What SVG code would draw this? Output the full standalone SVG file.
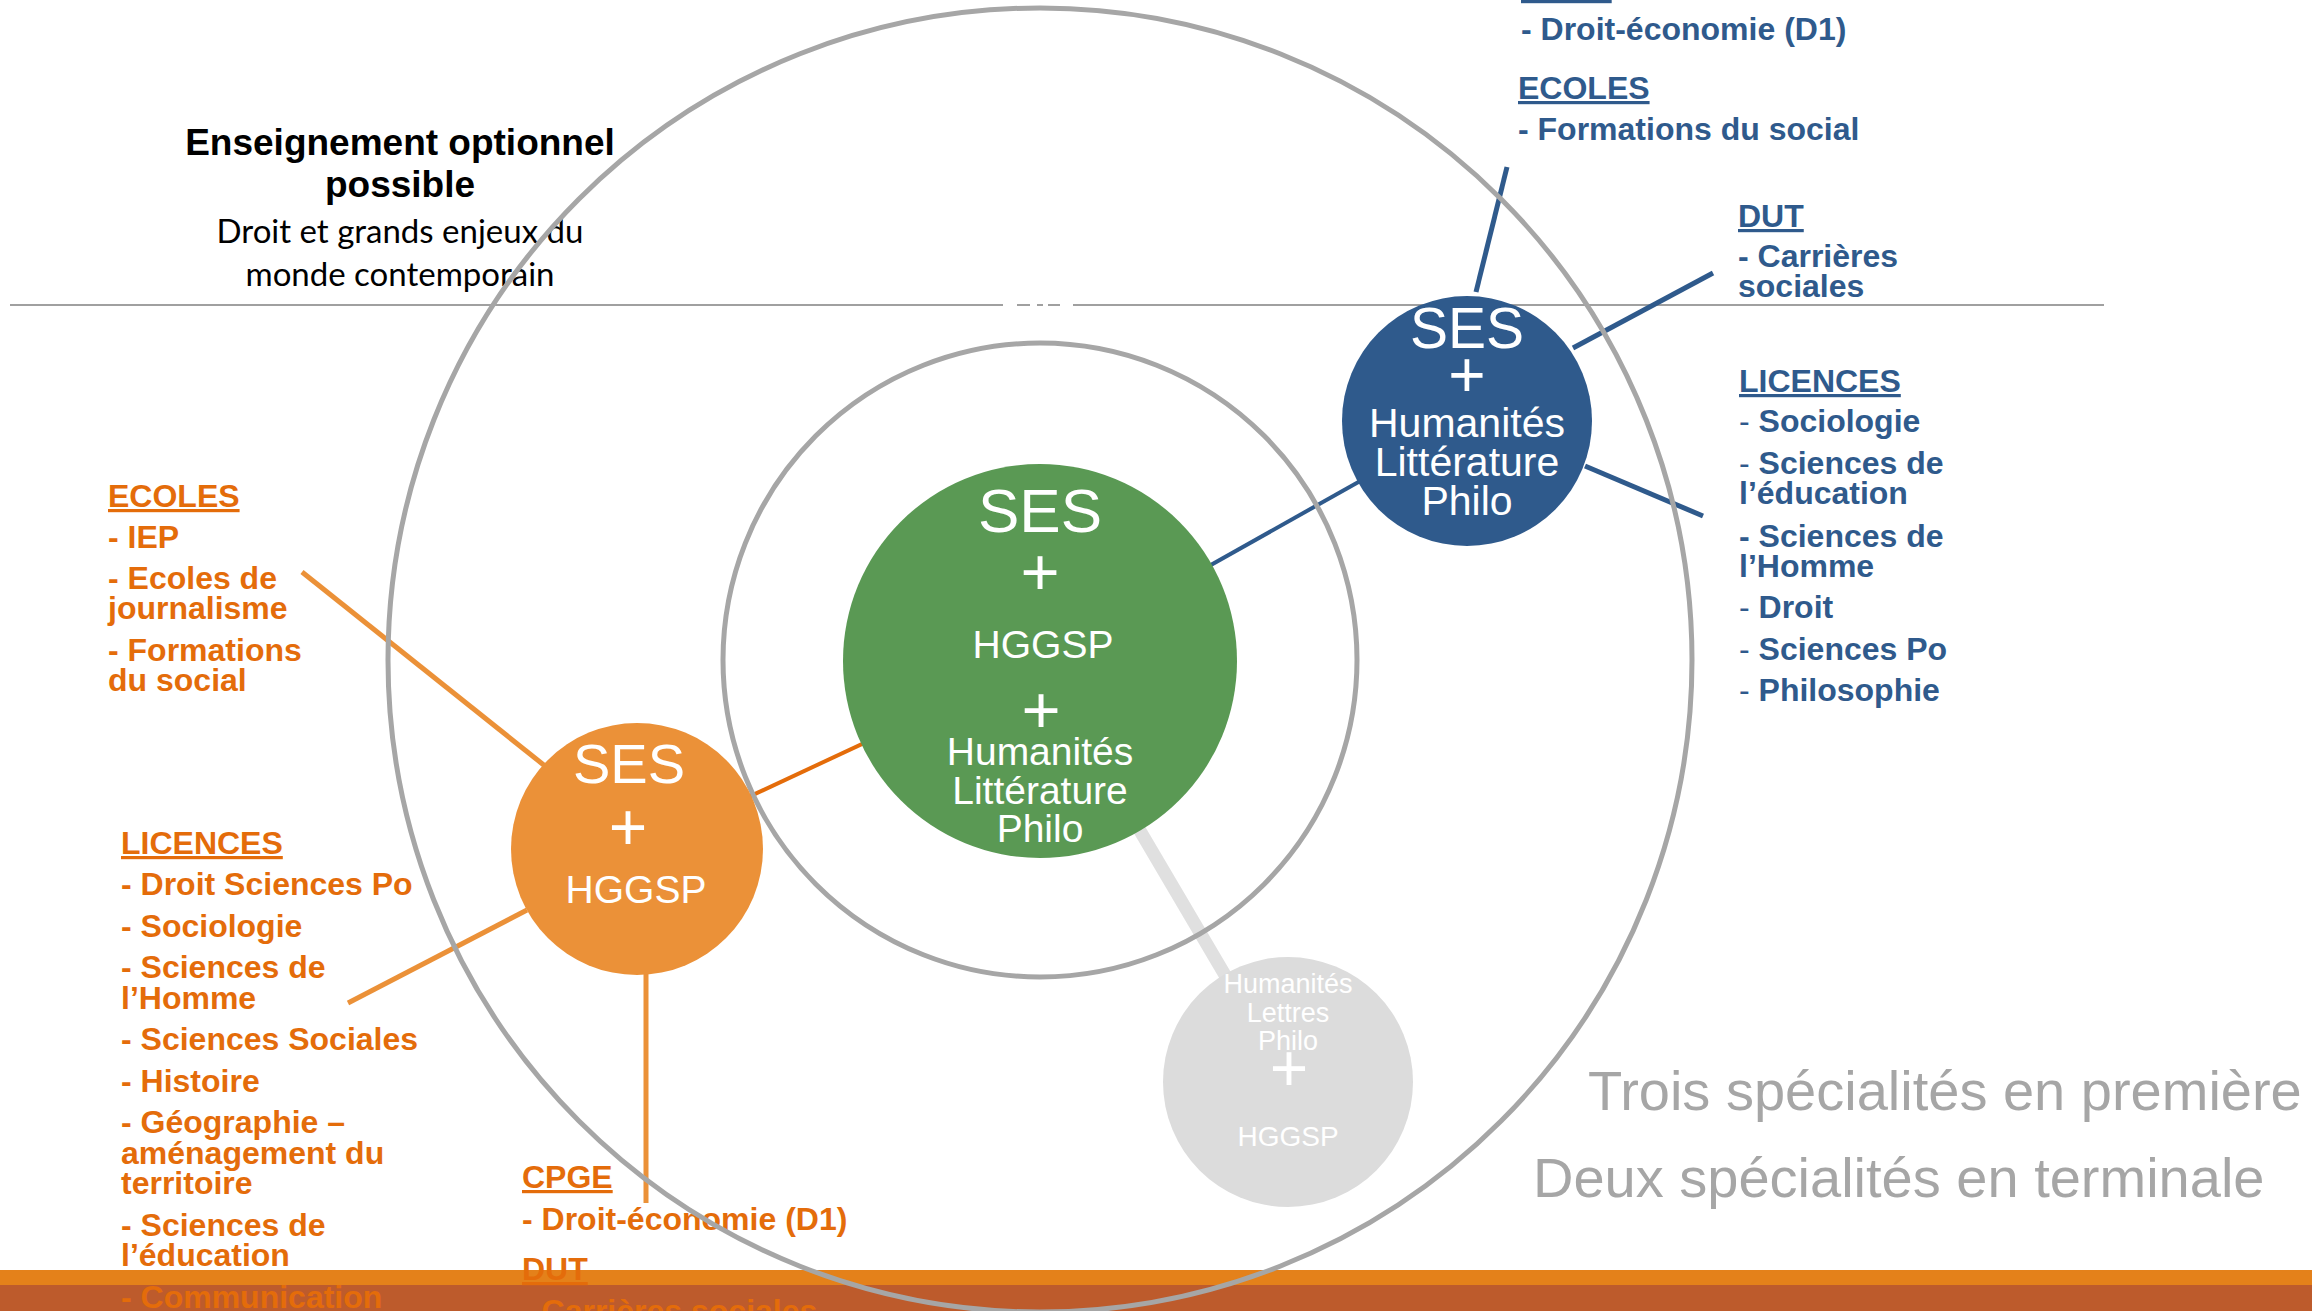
<svg xmlns="http://www.w3.org/2000/svg" width="2312" height="1311" viewBox="0 0 2312 1311">
<style>
text{font-family:"Liberation Sans",Arial,sans-serif}
.lb{font-size:32px;font-weight:700;fill:#2F5A8C}
.lo{font-size:32px;font-weight:700;fill:#E46C0A}
.u{text-decoration:underline}
.n{font-weight:400}
.ct{fill:#fff;text-anchor:middle}
.ring{fill:none;stroke:#A6A6A6;stroke-width:5}
.sub{font-family:Lato,"Open Sans",sans-serif;font-size:33px;fill:#000;text-anchor:middle}
.big{font-size:56px;fill:#A6A6A6}
</style>
<rect width="2312" height="1311" fill="#fff"/>
<g id="bottom-bar">
<rect x="0" y="1270" width="2312" height="15" fill="#E4811A"/>
<rect x="0" y="1285" width="2312" height="26" fill="#BD5B2C"/>
</g>
<g id="divider" stroke="#A0A0A0" stroke-width="2">
<line x1="10" y1="305" x2="1003" y2="305"/>
<line x1="1017" y1="305" x2="1030" y2="305"/>
<line x1="1037" y1="305" x2="1043" y2="305"/>
<line x1="1048" y1="305" x2="1060" y2="305"/>
<line x1="1073" y1="305" x2="2104" y2="305"/>
</g>
<g id="option">
<text x="400" y="155" text-anchor="middle" font-size="37" font-weight="700">Enseignement optionnel</text>
<text x="400" y="197" text-anchor="middle" font-size="37" font-weight="700">possible</text>
<text class="sub" x="400" y="243">Droit et grands enjeux du</text>
<text class="sub" x="400" y="286">monde contemporain</text>
</g>
<g id="legend">
<text class="big" x="1588" y="1110">Trois spécialités en première</text>
<text class="big" x="1533" y="1197">Deux spécialités en terminale</text>
</g>
<g id="list-orange-ecoles" class="lo">
<text x="108" y="507"><tspan class="u">ECOLES</tspan></text>
<text x="108" y="548">- IEP</text>
<text x="108" y="589">- Ecoles de</text>
<text x="108" y="619">journalisme</text>
<text x="108" y="661">- Formations</text>
<text x="108" y="691">du social</text>
</g>
<g id="list-orange-licences" class="lo">
<text x="121" y="854"><tspan class="u">LICENCES</tspan></text>
<text x="121" y="895">- Droit Sciences Po</text>
<text x="121" y="937">- Sociologie</text>
<text x="121" y="978">- Sciences de</text>
<text x="121" y="1009">l’Homme</text>
<text x="121" y="1050">- Sciences Sociales</text>
<text x="121" y="1092">- Histoire</text>
<text x="121" y="1133">- Géographie –</text>
<text x="121" y="1164">aménagement du</text>
<text x="121" y="1194">territoire</text>
<text x="121" y="1236">- Sciences de</text>
<text x="121" y="1266">l’éducation</text>
<text x="121" y="1308">- Communication</text>
</g>
<g id="list-orange-cpge" class="lo">
<text x="522" y="1188"><tspan class="u">CPGE</tspan></text>
<text x="522" y="1230">- Droit-économie (D1)</text>
<text x="522" y="1280"><tspan class="u">DUT</tspan></text>
<text x="522" y="1322">- Carrières sociales</text>
</g>
<g id="list-blue-top" class="lb">
<text x="1521" y="-2"><tspan class="u">CPGE</tspan></text>
<text x="1521" y="40">- Droit-économie (D1)</text>
<text x="1518" y="99"><tspan class="u">ECOLES</tspan></text>
<text x="1518" y="140">- Formations du social</text>
</g>
<g id="list-blue-dut" class="lb">
<text x="1738" y="227"><tspan class="u">DUT</tspan></text>
<text x="1738" y="267">- Carrières</text>
<text x="1738" y="297">sociales</text>
</g>
<g id="list-blue-licences" class="lb">
<text x="1739" y="392"><tspan class="u">LICENCES</tspan></text>
<text x="1739" y="432"><tspan class="n">- </tspan>Sociologie</text>
<text x="1739" y="474"><tspan class="n">- </tspan>Sciences de</text>
<text x="1739" y="504">l’éducation</text>
<text x="1739" y="547">- Sciences de</text>
<text x="1739" y="577">l’Homme</text>
<text x="1739" y="618"><tspan class="n">- </tspan>Droit</text>
<text x="1739" y="660"><tspan class="n">- </tspan>Sciences Po</text>
<text x="1739" y="701"><tspan class="n">- </tspan>Philosophie</text>
</g>
<g id="connectors" fill="none">
<line x1="1040" y1="661" x2="1288" y2="1082" stroke="#E0E0E0" stroke-width="13"/>
<line x1="1040" y1="661" x2="637" y2="849" stroke="#E46C0A" stroke-width="4"/>
<line x1="1040" y1="661" x2="1467" y2="421" stroke="#2F5A8C" stroke-width="4"/>
<line x1="1476" y1="292" x2="1507" y2="167" stroke="#2F5A8C" stroke-width="5"/>
<line x1="1573" y1="348" x2="1713" y2="273" stroke="#2F5A8C" stroke-width="5"/>
<line x1="1585" y1="466" x2="1703" y2="516" stroke="#2F5A8C" stroke-width="5"/>
<line x1="302" y1="572" x2="545" y2="766" stroke="#EB9138" stroke-width="5"/>
<line x1="348" y1="1003" x2="527" y2="910" stroke="#EB9138" stroke-width="5"/>
<line x1="646" y1="970" x2="646" y2="1203" stroke="#EB9138" stroke-width="5"/>
</g>
<g id="rings">
<circle class="ring" cx="1040" cy="660" r="652"/>
<circle class="ring" cx="1040" cy="660" r="317"/>
</g>
<g id="node-gray">
<circle cx="1288" cy="1082" r="125" fill="#DCDCDC"/>
<text class="ct" x="1288" y="993" font-size="27">Humanités</text>
<text class="ct" x="1288" y="1022" font-size="27">Lettres</text>
<text class="ct" x="1288" y="1050" font-size="27">Philo</text>
<text class="ct" x="1289" y="1091" font-size="66">+</text>
<text class="ct" x="1288" y="1146" font-size="28">HGGSP</text>
</g>
<g id="node-green">
<circle cx="1040" cy="661" r="197" fill="#5A9954"/>
<text class="ct" x="1040" y="532" font-size="62">SES</text>
<text class="ct" x="1040" y="595" font-size="67">+</text>
<text class="ct" x="1043" y="658" font-size="39">HGGSP</text>
<text class="ct" x="1041" y="733" font-size="67">+</text>
<text class="ct" x="1040" y="765" font-size="39">Humanités</text>
<text class="ct" x="1040" y="804" font-size="39">Littérature</text>
<text class="ct" x="1040" y="842" font-size="39">Philo</text>
</g>
<g id="node-blue">
<circle cx="1467" cy="421" r="125" fill="#2F5A8C"/>
<text class="ct" x="1467" y="348" font-size="57">SES</text>
<text class="ct" x="1467" y="397" font-size="64">+</text>
<text class="ct" x="1467" y="437" font-size="41">Humanités</text>
<text class="ct" x="1467" y="476" font-size="41">Littérature</text>
<text class="ct" x="1467" y="515" font-size="41">Philo</text>
</g>
<g id="node-orange">
<circle cx="637" cy="849" r="126" fill="#EB9138"/>
<text class="ct" x="629" y="783" font-size="56">SES</text>
<text class="ct" x="628" y="850" font-size="66">+</text>
<text class="ct" x="636" y="903" font-size="39">HGGSP</text>
</g>
</svg>
